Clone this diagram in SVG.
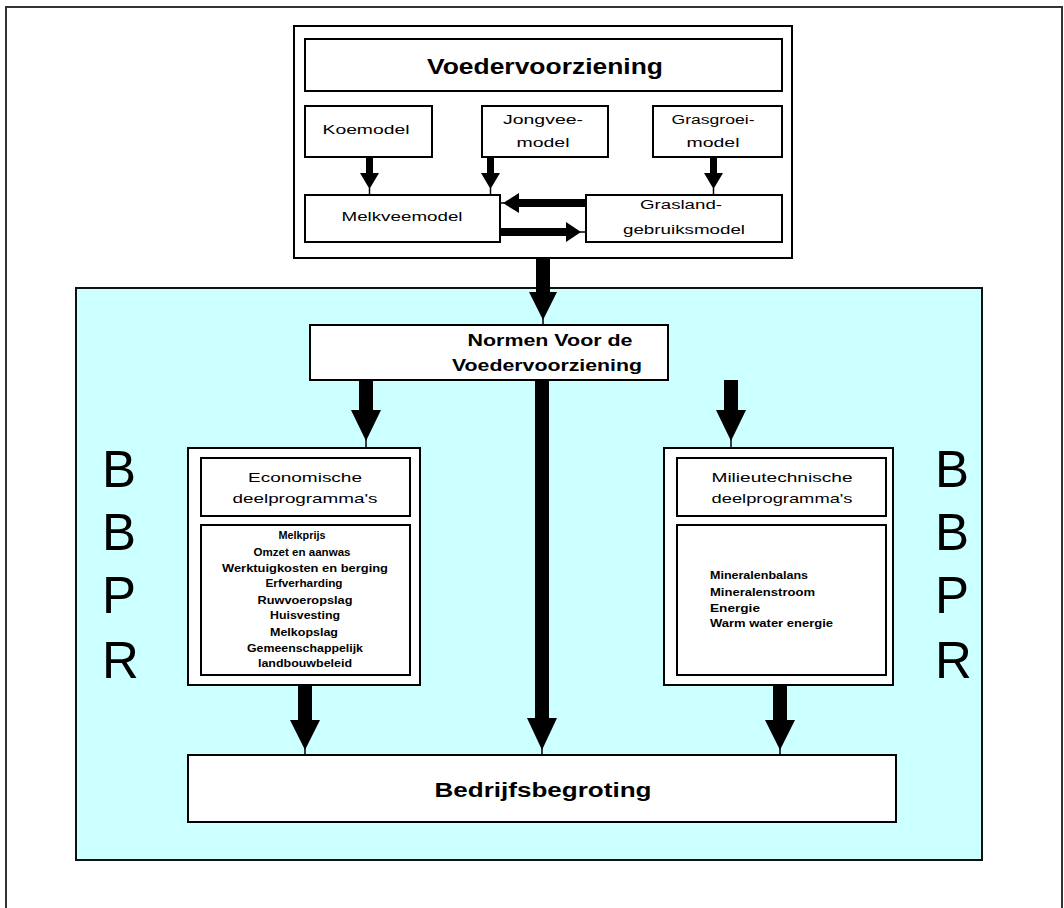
<svg xmlns="http://www.w3.org/2000/svg" width="1064" height="908" viewBox="0 0 1064 908">
  <style>
    .box { fill: #ffffff; stroke: #000000; stroke-width: 2; }
    .panel { fill: #ccffff; stroke: #111111; stroke-width: 2; }
    .frame { fill: #ffffff; stroke: #333333; stroke-width: 2; }
    .arrow { fill: #000000; stroke: none; }
    .tick { stroke: #000000; stroke-width: 1.5; }
    text { font-family: "Liberation Sans", Arial, sans-serif; fill: #000000; }
    .title { font-weight: bold; text-anchor: middle; }
    .lbl { font-size: 12px; text-anchor: middle; }
    .hdr { font-size: 13px; text-anchor: middle; }
    .item { font-size: 10px; font-weight: bold; }
    .big { font-size: 51px; }
  </style>

  <!-- page frame and light-blue panel -->
  <rect class="frame" x="6" y="7" width="1056" height="912"/>
  <rect class="panel" x="76" y="288" width="906" height="572"/>

  <!-- side letters -->
  <g id="bbpr-left">
    <text class="big" x="102" y="487">B</text>
    <text class="big" x="102" y="550">B</text>
    <text class="big" x="102" y="613">P</text>
    <text class="big" x="102" y="678">R</text>
  </g>
  <g id="bbpr-right">
    <text class="big" x="935" y="487">B</text>
    <text class="big" x="935" y="550">B</text>
    <text class="big" x="935" y="613">P</text>
    <text class="big" x="935" y="678">R</text>
  </g>

  <!-- feed supply block -->
  <g id="voedervoorziening">
    <rect class="box" x="294" y="26" width="498" height="232"/>
    <rect class="box" x="305" y="39" width="477" height="52"/>
    <text class="title" x="545" y="74" font-size="22" textLength="236" lengthAdjust="spacingAndGlyphs">Voedervoorziening</text>
  </g>
  <g id="koemodel">
    <rect class="box" x="305" y="106" width="127" height="51"/>
    <text class="lbl" x="366" y="134" textLength="87" lengthAdjust="spacingAndGlyphs">Koemodel</text>
  </g>
  <g id="jongveemodel">
    <rect class="box" x="482" y="106" width="126" height="51"/>
    <text class="lbl" x="543" y="124" textLength="80" lengthAdjust="spacingAndGlyphs">Jongvee-</text>
    <text class="lbl" x="543" y="147" textLength="53" lengthAdjust="spacingAndGlyphs">model</text>
  </g>
  <g id="grasgroeimodel">
    <rect class="box" x="653" y="106" width="129" height="51"/>
    <text class="lbl" x="713" y="124" textLength="83" lengthAdjust="spacingAndGlyphs">Grasgroei-</text>
    <text class="lbl" x="713" y="147" textLength="53" lengthAdjust="spacingAndGlyphs">model</text>
  </g>
  <g id="melkveemodel">
    <rect class="box" x="305" y="195" width="195" height="47"/>
    <text class="lbl" x="402" y="221" textLength="121" lengthAdjust="spacingAndGlyphs">Melkveemodel</text>
  </g>
  <g id="graslandgebruiksmodel">
    <rect class="box" x="586" y="195" width="196" height="47"/>
    <text class="lbl" x="681" y="209" textLength="82" lengthAdjust="spacingAndGlyphs">Grasland-</text>
    <text class="lbl" x="684" y="234" textLength="122" lengthAdjust="spacingAndGlyphs">gebruiksmodel</text>
  </g>

  <!-- norms -->
  <g id="normen">
    <rect class="box" x="310" y="325" width="358" height="55"/>
    <text class="title" x="550" y="346" font-size="16" textLength="165" lengthAdjust="spacingAndGlyphs">Normen Voor de</text>
    <text class="title" x="547" y="371" font-size="16" textLength="190" lengthAdjust="spacingAndGlyphs">Voedervoorziening</text>
  </g>

  <!-- economic sub-programmes -->
  <g id="economisch">
    <rect class="box" x="188" y="448" width="232" height="237"/>
    <rect class="box" x="201" y="458" width="209" height="58"/>
    <text class="hdr" x="305" y="482" textLength="114" lengthAdjust="spacingAndGlyphs">Economische</text>
    <text class="hdr" x="305" y="503" textLength="145" lengthAdjust="spacingAndGlyphs">deelprogramma's</text>
    <rect class="box" x="201" y="525" width="209" height="150"/>
    <g class="item" text-anchor="middle">
      <text class="item" x="302" y="539" textLength="47" lengthAdjust="spacingAndGlyphs">Melkprijs</text>
      <text class="item" x="302" y="556" textLength="97" lengthAdjust="spacingAndGlyphs">Omzet en aanwas</text>
      <text class="item" x="305" y="572" textLength="166" lengthAdjust="spacingAndGlyphs">Werktuigkosten en berging</text>
      <text class="item" x="304" y="587" textLength="77" lengthAdjust="spacingAndGlyphs">Erfverharding</text>
      <text class="item" x="305" y="604" textLength="95" lengthAdjust="spacingAndGlyphs">Ruwvoeropslag</text>
      <text class="item" x="305" y="619" textLength="70" lengthAdjust="spacingAndGlyphs">Huisvesting</text>
      <text class="item" x="304" y="636" textLength="68" lengthAdjust="spacingAndGlyphs">Melkopslag</text>
      <text class="item" x="305" y="652" textLength="116" lengthAdjust="spacingAndGlyphs">Gemeenschappelijk</text>
      <text class="item" x="305" y="667" textLength="94" lengthAdjust="spacingAndGlyphs">landbouwbeleid</text>
    </g>
  </g>

  <!-- environmental sub-programmes -->
  <g id="milieutechnisch">
    <rect class="box" x="664" y="448" width="229" height="237"/>
    <rect class="box" x="677" y="458" width="209" height="58"/>
    <text class="hdr" x="782" y="482" textLength="141" lengthAdjust="spacingAndGlyphs">Milieutechnische</text>
    <text class="hdr" x="782" y="503" textLength="141" lengthAdjust="spacingAndGlyphs">deelprogramma's</text>
    <rect class="box" x="677" y="525" width="209" height="150"/>
    <text class="item" x="710" y="579" textLength="98" lengthAdjust="spacingAndGlyphs">Mineralenbalans</text>
    <text class="item" x="710" y="596" textLength="105" lengthAdjust="spacingAndGlyphs">Mineralenstroom</text>
    <text class="item" x="710" y="612" textLength="50" lengthAdjust="spacingAndGlyphs">Energie</text>
    <text class="item" x="710" y="627" textLength="123" lengthAdjust="spacingAndGlyphs">Warm water energie</text>
  </g>

  <!-- farm budget -->
  <g id="bedrijfsbegroting">
    <rect class="box" x="188" y="755" width="708" height="67"/>
    <text class="title" x="543" y="797" font-size="20" textLength="217" lengthAdjust="spacingAndGlyphs">Bedrijfsbegroting</text>
  </g>

  <!-- connectors -->
  <g id="connectors">
    <!-- into Melkveemodel / Graslandgebruiksmodel -->
    <polygon class="arrow" points="366,157 373,157 373,173 379,173 369.5,189 360,173 366,173"/>
    <line class="tick" x1="369.5" y1="188" x2="369.5" y2="195"/>
    <polygon class="arrow" points="487,157 494,157 494,173 500,173 490.5,189 481,173 487,173"/>
    <line class="tick" x1="490.5" y1="188" x2="490.5" y2="195"/>
    <polygon class="arrow" points="710,157 717,157 717,173 723,173 713.5,189 704,173 710,173"/>
    <line class="tick" x1="713.5" y1="188" x2="713.5" y2="195"/>
    <!-- Grasland -> Melkvee -->
    <polygon class="arrow" points="586,199 519,199 519,193 503,203 519,213 519,207 586,207"/>
    <line class="tick" x1="500" y1="203" x2="504" y2="203"/>
    <!-- Melkvee -> Grasland -->
    <polygon class="arrow" points="500,228 566,228 566,222 581,232 566,242 566,236 500,236"/>
    <line class="tick" x1="580" y1="232" x2="586" y2="232"/>
    <!-- Voedervoorziening -> Normen -->
    <polygon class="arrow" points="536,258 550,258 550,292 557,292 543,320 529,292 536,292"/>
    <line class="tick" x1="543" y1="318" x2="543" y2="325"/>
    <!-- Normen -> deelprogramma's -->
    <polygon class="arrow" points="359,380 373,380 373,410 381,410 366,441 351,410 359,410"/>
    <line class="tick" x1="366" y1="439" x2="366" y2="448"/>
    <polygon class="arrow" points="724,380 738,380 738,410 746,410 731,441 716,410 724,410"/>
    <line class="tick" x1="731" y1="439" x2="731" y2="448"/>
    <!-- Normen -> Bedrijfsbegroting -->
    <polygon class="arrow" points="535,380 549,380 549,718 557,718 542,750 527,718 535,718"/>
    <line class="tick" x1="542" y1="748" x2="542" y2="755"/>
    <!-- deelprogramma's -> Bedrijfsbegroting -->
    <polygon class="arrow" points="298,685 312,685 312,720 320,720 305,750 290,720 298,720"/>
    <line class="tick" x1="305" y1="748" x2="305" y2="755"/>
    <polygon class="arrow" points="773,685 787,685 787,720 795,720 780,750 765,720 773,720"/>
    <line class="tick" x1="780" y1="748" x2="780" y2="755"/>
  </g>
</svg>
